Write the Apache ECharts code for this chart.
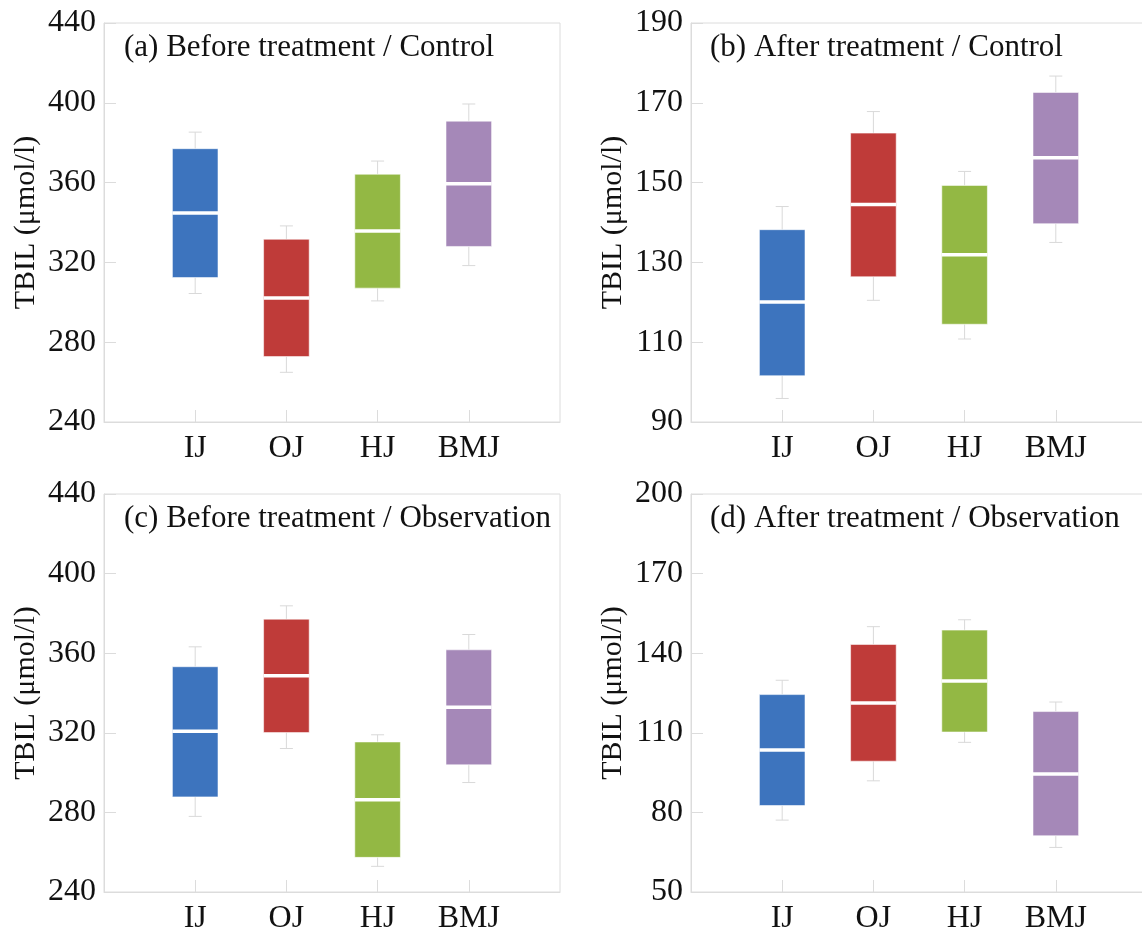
<!DOCTYPE html>
<html>
<head>
<meta charset="utf-8">
<script src="https://cdn.jsdelivr.net/npm/echarts@6/dist/echarts.min.js"></script>
<style>
html,body{margin:0;padding:0;background:#fff;}
#chart{width:1142px;height:931px;}
</style>
</head>
<body>
<div id="chart"></div>
<script>
// Categories (blank slots pad the axis ends)
const categories = ['', 'IJ', 'OJ', 'HJ', 'BMJ', ''];
const groups = ['IJ', 'OJ', 'HJ', 'BMJ'];
const groupColors = ['#3d74be', '#bf3b39', '#93b844', '#a588b8'];

// Panel titles
const panelTitles = [
  '(a) Before treatment / Control',
  '(b) After treatment / Control',
  '(c) Before treatment / Observation',
  '(d) After treatment / Observation'
];

// Box values: [min, Q1, median, Q3, max] per group (IJ, OJ, HJ, BMJ)
const boxA = [
  [304.4, 312.4, 344.7, 377.0, 385.3],
  [264.9, 272.8, 302.2, 331.6, 338.3],
  [300.7, 307.1, 335.7, 364.2, 370.8],
  [318.4, 328.0, 359.4, 390.8, 399.4]
];
const boxB = [
  [95.9, 101.6, 120.1, 138.2, 144.0],
  [120.5, 126.4, 144.5, 162.4, 167.8],
  [110.8, 114.5, 131.9, 149.3, 152.8],
  [135.0, 139.7, 156.2, 172.6, 176.7]
];
const boxC = [
  [278.0, 287.8, 320.8, 353.2, 363.2],
  [312.1, 320.1, 348.7, 377.1, 383.8],
  [252.9, 257.4, 286.3, 315.4, 319.0],
  [295.0, 303.9, 332.8, 361.7, 369.4]
];
const boxD = [
  [77.1, 82.6, 103.5, 124.4, 129.8],
  [91.9, 99.3, 121.2, 143.3, 150.0],
  [106.4, 110.3, 129.5, 148.7, 152.6],
  [66.8, 71.2, 94.5, 118.0, 121.6]
];

// Y axis ranges: [min, max, interval]
const yRanges = [
  [240, 440, 40],
  [90, 190, 20],
  [240, 440, 40],
  [50, 200, 30]
];
const yName = 'TBIL (μmol/l)';

const FONT = '"Liberation Serif", "Times New Roman", serif';
const AXIS_GRAY = '#dcdcdc';

const grids = [
  {left: 104, top: 23, width: 456, height: 399},
  {left: 691, top: 23, width: 456, height: 399},
  {left: 104, top: 494, width: 456, height: 398},
  {left: 691, top: 494, width: 456, height: 398}
];
const titlePos = [
  {left: 124, top: 32},
  {left: 710, top: 32},
  {left: 124, top: 503},
  {left: 710, top: 503}
];
const allBoxes = [boxA, boxB, boxC, boxD];

function renderBox(params, api) {
  const cat = api.value(0);
  const vMin = api.value(1), q1 = api.value(2), med = api.value(3), q3 = api.value(4), vMax = api.value(5);
  const pMin = api.coord([cat, vMin]);
  const pQ1 = api.coord([cat, q1]);
  const pMed = api.coord([cat, med]);
  const pQ3 = api.coord([cat, q3]);
  const pMax = api.coord([cat, vMax]);
  const x = pMed[0];
  const bw = api.size([1, 0])[0] * 0.5;
  const cap = 6.5;
  const color = api.visual('color');
  const ws = {stroke: '#d9d9d9', lineWidth: 1};
  return {
    type: 'group',
    children: [
      {type: 'line', shape: {x1: x, y1: pQ3[1], x2: x, y2: pMax[1]}, style: ws},
      {type: 'line', shape: {x1: x - cap, y1: pMax[1], x2: x + cap, y2: pMax[1]}, style: ws},
      {type: 'line', shape: {x1: x, y1: pQ1[1], x2: x, y2: pMin[1]}, style: ws},
      {type: 'line', shape: {x1: x - cap, y1: pMin[1], x2: x + cap, y2: pMin[1]}, style: ws},
      {type: 'rect', shape: {x: x - bw / 2, y: pQ3[1], width: bw, height: pQ1[1] - pQ3[1]},
        style: {fill: color, stroke: 'rgba(255,255,255,0.55)', lineWidth: 1}},
      {type: 'line', shape: {x1: x - bw / 2, y1: pMed[1], x2: x + bw / 2, y2: pMed[1]},
        style: {stroke: '#ffffff', lineWidth: 3.5}}
    ]
  };
}

const option = {
  backgroundColor: '#ffffff',
  animation: false,
  title: panelTitles.map((t, i) => ({
    text: t,
    left: titlePos[i].left,
    top: titlePos[i].top,
    padding: 0,
    textStyle: {fontFamily: FONT, fontWeight: 'normal', fontSize: 31, color: '#111'}
  })),
  grid: grids.map(g => Object.assign({
    show: true, borderColor: AXIS_GRAY, borderWidth: 1, backgroundColor: 'transparent',
    containLabel: false, outerBoundsMode: 'none'
  }, g)),
  xAxis: grids.map((g, i) => ({
    type: 'category',
    gridIndex: i,
    data: categories,
    boundaryGap: false,
    axisLine: {show: true, lineStyle: {color: AXIS_GRAY, width: 1}},
    axisTick: {show: true, inside: true, length: 12, lineStyle: {color: AXIS_GRAY},
      interval: function (idx, val) { return val !== ''; }},
    axisLabel: {interval: 0, margin: 11, fontFamily: FONT, fontSize: 32, color: '#111'},
    splitLine: {show: false}
  })),
  yAxis: yRanges.map((r, i) => ({
    type: 'value',
    gridIndex: i,
    min: r[0], max: r[1], interval: r[2],
    name: yName,
    nameLocation: 'middle',
    nameGap: 63,
    nameTextStyle: {fontFamily: FONT, fontSize: 30, color: '#111'},
    axisLine: {show: true, lineStyle: {color: AXIS_GRAY, width: 1}},
    axisTick: {show: true, inside: true, length: 12, lineStyle: {color: AXIS_GRAY}},
    axisLabel: {margin: 8, fontFamily: FONT, fontSize: 32, color: '#111'},
    splitLine: {show: false}
  })),
  series: allBoxes.map((boxes, i) => ({
    type: 'custom',
    xAxisIndex: i,
    yAxisIndex: i,
    renderItem: renderBox,
    encode: {x: 0, y: [1, 2, 3, 4, 5]},
    data: boxes.map((b, k) => ({
      value: [groups[k]].concat(b),
      itemStyle: {color: groupColors[k]}
    }))
  }))
};

const chart = echarts.init(document.getElementById('chart'), null, {renderer: 'canvas'});
chart.setOption(option);
</script>
</body>
</html>
